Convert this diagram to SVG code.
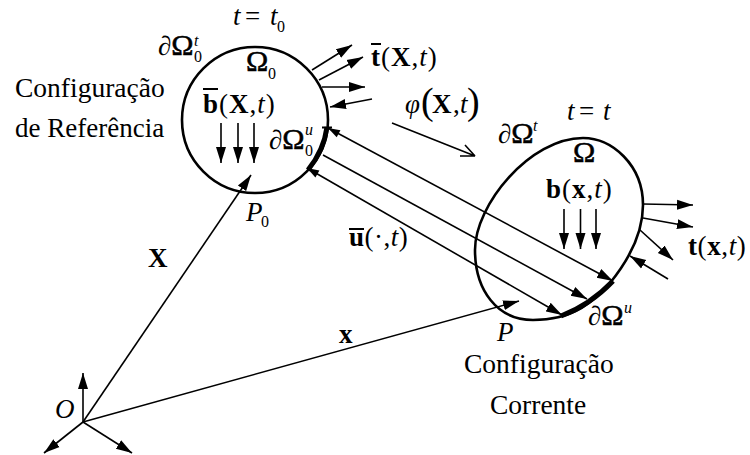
<svg xmlns="http://www.w3.org/2000/svg" width="750" height="455" viewBox="0 0 750 455">
<style>
text{font-family:"Liberation Serif","Times New Roman",serif;font-size:27px;fill:#000}
.i{font-style:italic}
.b{font-weight:bold}
.s{font-size:16px}
.m{letter-spacing:1px}
.o{font-size:30px;stroke:#000;stroke-width:.5}
.l{stroke:#000;stroke-width:1.6;fill:none}
.a{marker-end:url(#ah)}
.d{marker-start:url(#as);marker-end:url(#ah)}
.body{stroke:#000;stroke-width:2.6;fill:none}
.th{stroke:#000;stroke-width:5;fill:none}
.bar{stroke:#000;stroke-width:2;fill:none}
</style>
<defs>
<marker id="ah" markerUnits="userSpaceOnUse" markerWidth="18" markerHeight="12" refX="16" refY="5" orient="auto" viewBox="0 0 18 10"><path d="M0 0L16 5L0 10Z"/></marker>
<marker id="as" markerUnits="userSpaceOnUse" markerWidth="14" markerHeight="10" refX="0" refY="4" orient="auto" viewBox="0 0 14 8"><path d="M12 0L0 4L12 8Z"/></marker>
</defs>
<g id="connectors">
<path class="l a" d="M312 70L352 45"/>
<path class="l a" d="M319 80L363 57"/>
<path class="l a" d="M322 87L365 87"/>
<path class="l a" d="M372 99L330 107"/>
<path class="l a" d="M221 123V163"/>
<path class="l a" d="M238 123V163"/>
<path class="l a" d="M254 123V163"/>
<path class="l a" d="M564 209V249"/>
<path class="l a" d="M580.500 209V249"/>
<path class="l a" d="M596 209V249"/>
<path class="l a" d="M643 204L693 205"/>
<path class="l a" d="M643 218L693 227"/>
<path class="l a" d="M640 230L673 260"/>
<path class="l a" d="M668 279L630 256"/>
<path class="l d" d="M328 128L613 281"/>
<path class="l a" d="M323 155L587 299"/>
<path class="l d" d="M307 168L562 315"/>
<path class="l a" d="M83 422L251 175"/>
<path class="l a" d="M83 422L519 301"/>
<path class="l a" d="M83 422V373"/>
<path class="l a" d="M83 422L44 453"/>
<path class="l a" d="M83 422L132 453"/>
<path class="l" d="M392 123L475 156L460 156M475 156L465 145"/>
</g>
<g id="reference-body">
<circle class="body" cx="255" cy="120" r="73"/>
<path class="th" d="M327 127Q324 150 308 170"/>
<path class="bar" d="M322 127.500H332"/>
<text x="233" y="25" class="i">t</text><text x="245" y="25">=</text><text x="270" y="25" class="i">t</text><text x="277" y="32" class="s">0</text>
<text x="158" y="55">∂<tspan class="o">Ω</tspan></text><text x="194" y="46" class="i s">t</text><text x="194" y="62" class="s">0</text>
<text x="246" y="71" class="o">Ω</text><text x="268" y="79" class="s">0</text>
<text x="203" y="113" class="m"><tspan class="b">b</tspan>(<tspan class="b">X</tspan>,<tspan class="i">t</tspan>)</text>
<path class="bar" d="M203 89H218"/>
<text x="269" y="149">∂<tspan class="o">Ω</tspan></text><text x="305" y="135" class="i s">u</text><text x="305" y="156" class="s">0</text>
<text x="246" y="221" class="i">P</text><text x="261" y="227" class="s">0</text>
</g>
<g id="current-body">
<path class="body" d="M583 138C612 138 643 165 643 205C643 235 627 262 610 283C595 300 575 320 533 320C497 320 475 290 475 250C475 205 530 138 583 138Z"/>
<path class="th" d="M613 281Q590 305 561 316"/>
<text x="567" y="120" class="i">t</text><text x="579" y="120">=</text><text x="603" y="120" class="i">t</text>
<text x="498" y="143">∂<tspan class="o">Ω</tspan></text><text x="533" y="131" class="i s">t</text>
<text x="573" y="162" class="o">Ω</text>
<text x="546" y="198" class="m"><tspan class="b">b</tspan>(<tspan class="b">x</tspan>,<tspan class="i">t</tspan>)</text>
<text x="588" y="325">∂<tspan class="o">Ω</tspan></text><text x="624" y="313" class="i s">u</text>
<text x="497" y="341" class="i">P</text>
<text x="688" y="255" style="letter-spacing:.6px"><tspan class="b">t</tspan>(<tspan class="b">x</tspan>,<tspan class="i">t</tspan>)</text>
</g>
<g id="labels">
<text x="15" y="97" style="font-size:27.500px">Configuração</text>
<text x="15" y="137">de Referência</text>
<text x="464" y="373" style="font-size:27.500px">Configuração</text>
<text x="490" y="414" style="font-size:27.500px">Corrente</text>
<text x="371" y="66" class="m"><tspan class="b">t</tspan>(<tspan class="b">X</tspan>,<tspan class="i">t</tspan>)</text>
<path class="bar" d="M371 44H381"/>
<text x="405" y="113" class="i">φ</text><text x="421" y="114" style="font-size:38px">(</text><text x="432" y="113" class="b">X</text><text x="453" y="113">,</text><text x="460" y="113" class="i">t</text><text x="467" y="114" style="font-size:38px">)</text>
<text x="349" y="246" style="letter-spacing:.5px"><tspan class="b">u</tspan>(·,<tspan class="i">t</tspan>)</text>
<path class="bar" d="M349 229H364"/>
<text x="148" y="267" class="b">X</text>
<text x="339" y="343" class="b">x</text>
<text x="55" y="418" class="i">O</text>
</g>
</svg>
